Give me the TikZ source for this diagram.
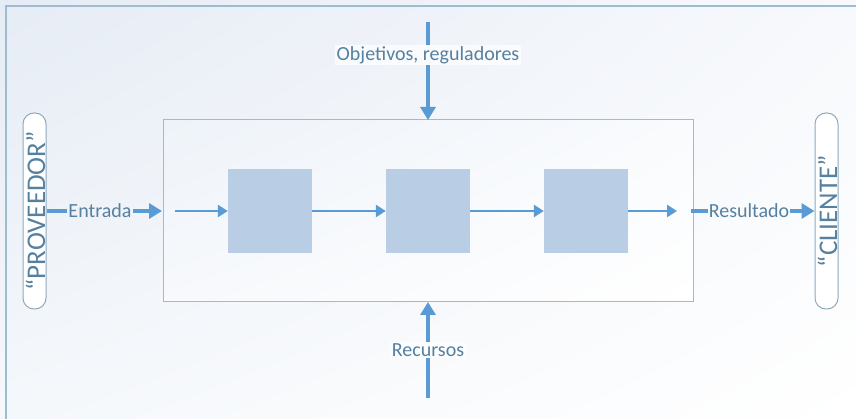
\documentclass[tikz,border=0pt]{standalone}
\usepackage{fontspec}
\setmainfont{Carlito}
\usetikzlibrary{arrows.meta,shadings}
\definecolor{arr}{HTML}{5B9BD5}
\definecolor{txt}{HTML}{56809F}
\definecolor{frame}{HTML}{9DBCD2}
\definecolor{sq}{HTML}{B9CDE5}
\definecolor{pill}{HTML}{8FA9BD}
\definecolor{bgUL}{RGB}{230,236,245}
\definecolor{bgUR}{RGB}{247,249,252}
\definecolor{bgLL}{RGB}{245,248,251}
\definecolor{bxUL}{RGB}{238,243,249}
\definecolor{bxUR}{RGB}{249,251,253}
\definecolor{bxLL}{RGB}{247,249,252}
\tikzset{
  flow/.style={draw=arr, line width=2.6pt, -{Triangle[length=10pt,width=12pt]}},
  bigflow/.style={draw=arr, line width=3.6pt, -{Triangle[length=13pt,width=15pt]}},
  plain/.style={draw=arr, line width=3.6pt},
  lbl/.style={text=txt, font=\fontsize{20}{24}\selectfont, fill=white, fill opacity=0.7, text opacity=1, inner sep=1.5pt},
  sidelbl/.style={text=txt, font=\fontsize{20}{24}\selectfont, inner sep=1pt},
  proc/.style={fill=sq, minimum width=84pt, minimum height=84pt, inner sep=0pt},
  pillbox/.style={draw=pill, line width=1pt, rounded corners=11pt, fill=white, minimum width=23pt, minimum height=196pt, inner sep=0pt},
  pilltext/.style={text=txt, font=\fontsize{27}{30}\selectfont, rotate=90}
}
\begin{document}
\begin{tikzpicture}[x=1pt,y=-1pt]
\useasboundingbox (0,0) rectangle (856,419);
\shade[upper left=bgUL, upper right=bgUR, lower left=bgLL, lower right=white] (0,0) rectangle (856,419);
\draw[frame, line width=1.2pt] (6,419) -- (6,6) -- (856,6);
% main box
\shade[upper left=bxUL, upper right=bxUR, lower left=bxLL, lower right=white] (163,120) rectangle (693,302);
\draw[frame, line width=1pt] (163,120) rectangle (693,302);
\coordinate (boxtop) at (428,120);
\coordinate (boxbot) at (428,302);
\coordinate (boxin) at (162,211);
% squares
\node[proc] (p1) at (270,211.5) {};
\node[proc] (p2) at (428,211.5) {};
\node[proc] (p3) at (586,211.5) {};
\coordinate (inL) at (175,211);
\coordinate (outR) at (677,211);
\draw[flow] (inL) -- (p1.west |- inL);
\draw[flow] (p1.east |- inL) -- (p2.west |- inL);
\draw[flow] (p2.east |- inL) -- (p3.west |- inL);
\draw[flow] (p3.east |- inL) -- (outR);
% pills
\node[pillbox] (prov) at (34.5,211) {};
\node[pilltext] at ([xshift=1pt]prov.center) {“PROVEEDOR”};
\node[pillbox] (cli) at (826.5,211) {};
\node[pilltext] at ([xshift=1pt]cli.center) {“CLIENTE”};
% entrada
\node[sidelbl] (ent) at (100,211) {Entrada};
\draw[plain] (prov.east |- ent) -- (ent.west);
\draw[bigflow] (ent.east) -- (boxin);
% resultado
\coordinate (resstart) at (691,211);
\node[sidelbl] (res) at (749,211) {Resultado};
\draw[plain] (resstart) -- (res.west);
\draw[bigflow] (res.east) -- (cli.west |- res);
% top
\coordinate (topstart) at (428,22);
\node[lbl] (obj) at (428,55) {Objetivos, reguladores};
\draw[plain] (topstart) -- (obj.north);
\draw[bigflow] (obj.south) -- (boxtop);
% bottom
\coordinate (botstart) at (428,398);
\node[lbl] (rec) at (428,350) {Recursos};
\draw[plain] (botstart) -- (rec.south);
\draw[bigflow] (rec.north) -- (boxbot);
\end{tikzpicture}
\end{document}
